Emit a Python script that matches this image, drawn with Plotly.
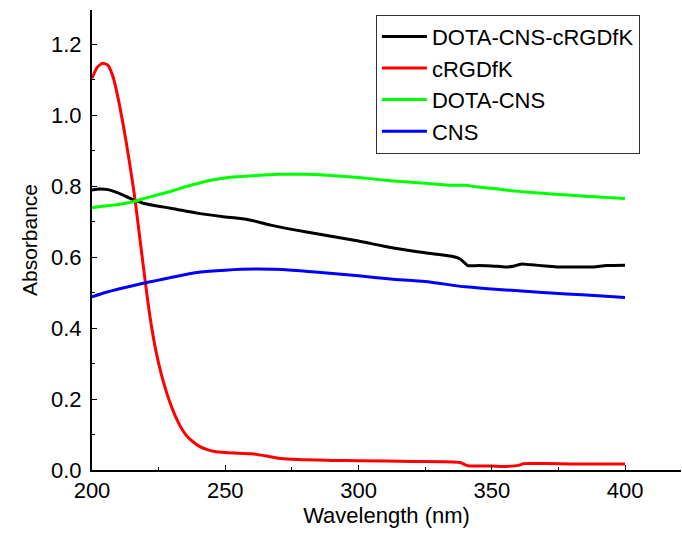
import plotly.graph_objects as go

# DOTA-CNS-cRGDfK (black)
w_black = [200, 203, 206, 210, 215, 220, 225, 230, 240, 250, 255, 260, 267, 275, 287, 300, 312, 325, 335, 338, 340, 341, 345, 350, 355, 358, 361, 365, 370, 375, 380, 388, 393, 400]
a_black = [0.789, 0.792, 0.79, 0.78, 0.763, 0.75, 0.743, 0.737, 0.723, 0.713, 0.709, 0.703, 0.69, 0.678, 0.662, 0.645, 0.627, 0.612, 0.602, 0.595, 0.582, 0.576, 0.576, 0.575, 0.572, 0.574, 0.58, 0.578, 0.575, 0.572, 0.572, 0.572, 0.576, 0.577]

# cRGDfK (red)
w_red = [200, 202, 204, 206, 208, 210, 212, 214, 216, 218, 220, 222, 224, 226, 228, 230, 232, 234, 236, 238, 240, 243, 246, 250, 255, 260, 265, 270, 275, 280, 290, 300, 320, 338, 341, 345, 350, 355, 360, 362, 370, 380, 390, 400]
a_red = [1.104, 1.135, 1.146, 1.14, 1.105, 1.04, 0.96, 0.87, 0.77, 0.65, 0.53, 0.42, 0.335, 0.27, 0.218, 0.175, 0.14, 0.112, 0.092, 0.079, 0.068, 0.058, 0.052, 0.049, 0.047, 0.046, 0.04, 0.033, 0.03, 0.029, 0.027, 0.026, 0.024, 0.021, 0.012, 0.011, 0.011, 0.01, 0.013, 0.018, 0.018, 0.017, 0.017, 0.017]

# DOTA-CNS (green)
w_green = [200, 205, 210, 215, 220, 225, 230, 235, 240, 245, 252, 260, 270, 280, 287, 300, 312, 325, 335, 340, 345, 350, 353, 360, 370, 380, 390, 400]
a_green = [0.739, 0.744, 0.748, 0.755, 0.766, 0.776, 0.786, 0.798, 0.808, 0.817, 0.825, 0.829, 0.833, 0.833, 0.831, 0.824, 0.815, 0.808, 0.802, 0.802, 0.797, 0.794, 0.791, 0.785, 0.779, 0.774, 0.769, 0.765]

# CNS (blue)
w_blue = [200, 205, 210, 218, 225, 230, 240, 250, 262, 275, 287, 300, 312, 325, 340, 350, 360, 378, 390, 400]
a_blue = [0.488, 0.5, 0.51, 0.524, 0.535, 0.543, 0.557, 0.563, 0.566, 0.563, 0.556, 0.547, 0.538, 0.531, 0.516, 0.51, 0.505, 0.496, 0.491, 0.486]

x_ticks = [200, 250, 300, 350, 400]
y_ticks = [0.0, 0.2, 0.4, 0.6, 0.8, 1.0, 1.2]

font = "Liberation Sans, Arial, sans-serif"
fig = go.Figure()
for name, xs, ys, col in [
    ("DOTA-CNS-cRGDfK", w_black, a_black, "#000000"),
    ("cRGDfK", w_red, a_red, "#ff0000"),
    ("DOTA-CNS", w_green, a_green, "#00ff00"),
    ("CNS", w_blue, a_blue, "#0000ff"),
]:
    fig.add_trace(go.Scatter(x=xs, y=ys, mode="lines", name=name,
                             line=dict(color=col, width=3, shape="spline", smoothing=0.6)))

fig.update_layout(
    width=682, height=533,
    margin=dict(l=92, r=1, t=10, b=63),
    plot_bgcolor="white", paper_bgcolor="white",
    font=dict(family=font, size=22, color="black"),
    showlegend=True,
    legend=dict(x=0.482, y=0.99, xanchor="left", yanchor="top",
                bordercolor="#333333", borderwidth=1, bgcolor="white",
                font=dict(size=22), tracegroupgap=0, itemwidth=45),
    xaxis=dict(range=[200, 421], tickvals=x_ticks, ticks="inside", ticklen=5,
               tickcolor="black", showline=True, linecolor="black", linewidth=2,
               showgrid=False, zeroline=False,
               minor=dict(dtick=25, tick0=200, ticks="inside", ticklen=3, tickcolor="black"),
               title=dict(text="Wavelength (nm)", standoff=2, font=dict(size=22))),
    yaxis=dict(range=[0, 1.296], tickvals=y_ticks, tickformat=".1f", ticks="inside", ticklen=5,
               tickcolor="black", showline=True, linecolor="black", linewidth=2,
               showgrid=False, zeroline=False, ticklabelstandoff=4,
               minor=dict(dtick=0.1, tick0=0, ticks="inside", ticklen=3, tickcolor="black"),
               title=dict(text="Absorbance", standoff=8, font=dict(size=21))),
)
fig.write_html("out.html")
